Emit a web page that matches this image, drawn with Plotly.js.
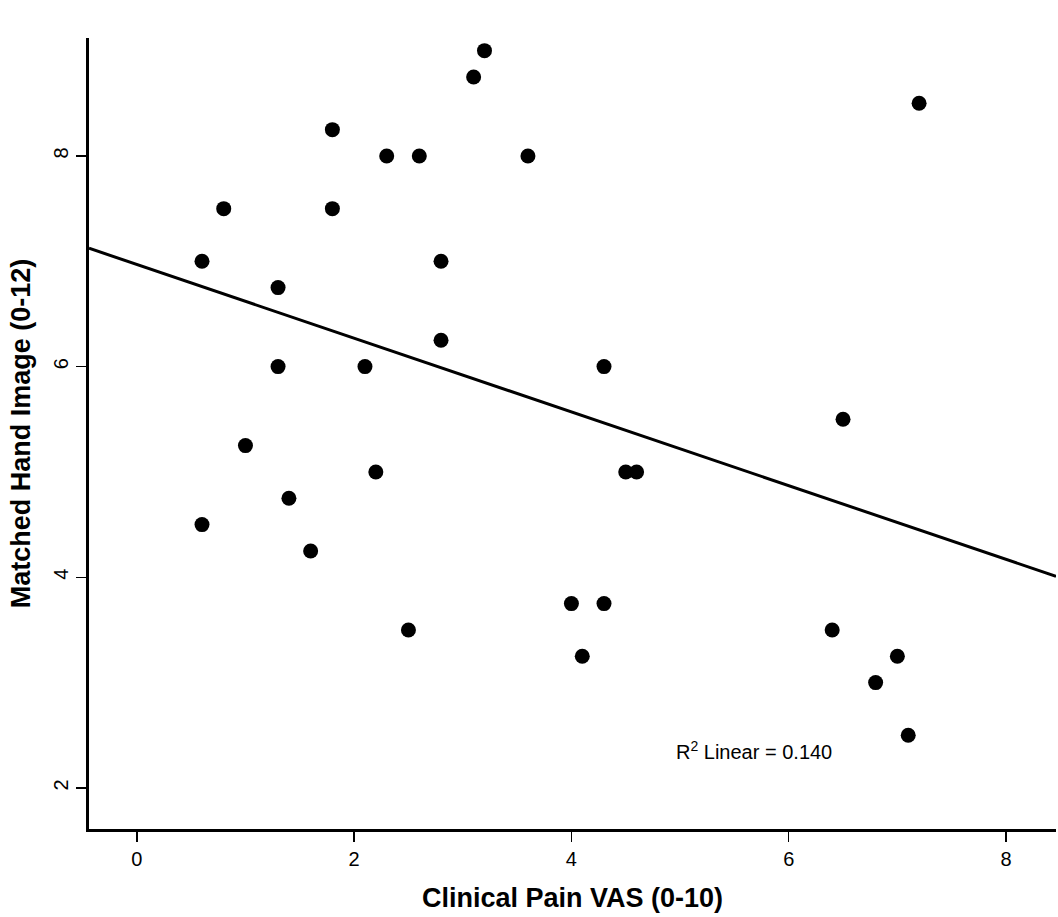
<!DOCTYPE html>
<html>
<head>
<meta charset="utf-8">
<script src="https://cdn.plot.ly/plotly-3.0.1.min.js"></script>
<style>html,body{margin:0;padding:0;background:#fff;}#chart{width:1058px;height:917px;}</style>
</head>
<body>
<div id="chart"></div>
<script>
const painVAS = [0.6,0.8,0.6,1.0,1.3,1.3,1.4,1.6,1.8,1.8,2.1,2.2,2.3,2.5,2.6,2.8,2.8,3.1,3.2,3.6,4.0,4.1,4.3,4.3,4.5,4.6,6.4,6.5,6.8,7.0,7.1,7.2];
const handImage = [7.0,7.5,4.5,5.25,6.75,6.0,4.75,4.25,8.25,7.5,6.0,5.0,8.0,3.5,8.0,7.0,6.25,8.75,9.0,8.0,3.75,3.25,6.0,3.75,5.0,5.0,3.5,5.5,3.0,3.25,2.5,8.5];
const xTicks = [0,2,4,6,8];
const yTicks = [2,4,6,8];
const r2Label = 'R<sup>2</sup> Linear = 0.140';
// fit line coefficients
const fitIntercept = 6.97;
const fitSlope = -0.350;

const xRange = [-0.44, 8.46];
const yRange = [1.61, 9.12];

const fitX = [xRange[0], xRange[1]];
const fitY = fitX.map(v => fitIntercept + fitSlope*v);

const font = 'Liberation Sans, Arial, sans-serif';
const data = [
  {x: fitX, y: fitY, mode: 'lines', line: {color: '#000', width: 3}, hoverinfo: 'skip', showlegend: false},
  {x: painVAS, y: handImage, mode: 'markers', marker: {color: '#000', size: 15}, showlegend: false}
];
const layout = {
  width: 1058, height: 917,
  margin: {l: 89, r: 2, t: 38, b: 88},
  paper_bgcolor: '#fff', plot_bgcolor: '#fff',
  font: {family: font, color: '#000', size: 16},
  xaxis: {
    range: xRange, tickvals: xTicks, ticks: 'outside', ticklen: 10, tickwidth: 1.5, tickcolor: '#000',
    showline: true, linewidth: 3, linecolor: '#000', showgrid: false, zeroline: false,
    tickfont: {size: 20, family: font},
    title: {text: 'Clinical Pain VAS (0-10)', font: {size: 27, family: font, weight: 'bold'}, standoff: 20}
  },
  yaxis: {
    range: yRange, tickvals: yTicks, ticks: 'outside', ticklen: 10, tickwidth: 1.5, tickcolor: '#000',
    showline: true, linewidth: 3, linecolor: '#000', showgrid: false, zeroline: false, tickangle: -90,
    tickfont: {size: 20, family: font},
    title: {text: 'Matched Hand Image (0-12)', font: {size: 27, family: font, weight: 'bold'}, standoff: 12}
  },
  annotations: [
    {x: 5.68, y: 2.36, xref: 'x', yref: 'y', text: r2Label, showarrow: false, font: {size: 20, family: font}}
  ]
};
Plotly.newPlot('chart', data, layout, {displayModeBar: false, staticPlot: true});
</script>
</body>
</html>
